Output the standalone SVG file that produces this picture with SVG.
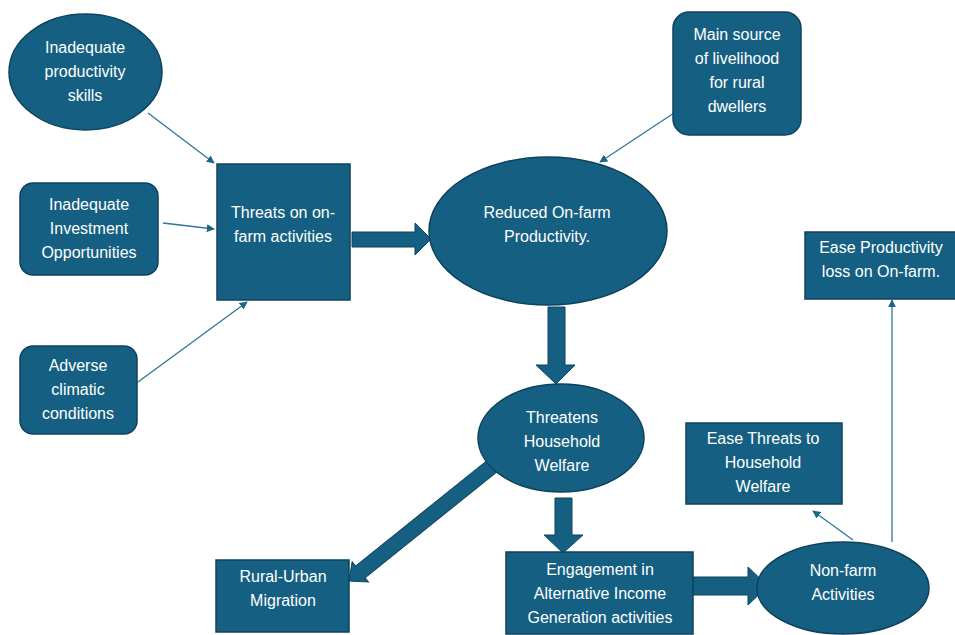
<svg xmlns="http://www.w3.org/2000/svg" width="955" height="635" viewBox="0 0 955 635">
<defs>
<style>
.n{fill:#156082;stroke:#0e425c;stroke-width:1.5}
.t{font-family:"Liberation Sans",Arial,sans-serif;font-size:16px;fill:#ffffff;text-anchor:middle}
.c{stroke:#2f7699;stroke-width:1.3;fill:none;marker-end:url(#ah)}
.b{fill:#156082;stroke:#0e425c;stroke-width:1}
</style>
<marker id="ah" viewBox="0 0 10 10" refX="9" refY="5" markerWidth="8" markerHeight="8" markerUnits="userSpaceOnUse" orient="auto">
<path d="M0,0 L10,5 L0,10 Z" fill="#1d6587"/>
</marker>
</defs>
<rect width="955" height="635" fill="#ffffff"/>
<g id="connectors">
<line class="c" x1="148" y1="113" x2="214" y2="163"/>
<line class="c" x1="163" y1="223" x2="214" y2="229"/>
<line class="c" x1="138" y1="382" x2="247" y2="302"/>
<line class="c" x1="674" y1="113" x2="600" y2="162"/>
<line class="c" x1="853" y1="540" x2="813" y2="511"/>
<line class="c" x1="892" y1="542" x2="892" y2="300"/>
<polygon class="b" points="352,232 415,232 415,223 431,239 415,255 415,247 352,247"/>
<polygon class="b" points="548,307 565,307 565,365 575,365 556,384 536,365 548,365"/>
<polygon class="b" points="555,498 572,498 572,535 583,535 563,553 544,535 555,535"/>
<polygon class="b" points="693,577 748,577 748,567 768,586 748,605 748,595 693,595"/>
<path class="b" d="M0,-7.5 H174 V-13 L188.5,0 L174,13 V7.5 H0 Z" transform="translate(496,463) rotate(141.25)"/>
</g>
<g id="n-skills">
<ellipse class="n" cx="85.5" cy="72" rx="76.5" ry="58"/>
<text class="t" x="85" y="53">Inadequate</text>
<text class="t" x="85" y="77">productivity</text>
<text class="t" x="85" y="101">skills</text>
</g>
<g id="n-investment">
<rect class="n" x="20" y="183" width="138" height="92" rx="13"/>
<text class="t" x="89" y="210">Inadequate</text>
<text class="t" x="89" y="234">Investment</text>
<text class="t" x="89" y="258">Opportunities</text>
</g>
<g id="n-threats">
<rect class="n" x="217" y="164" width="133" height="136"/>
<text class="t" x="283" y="218">Threats on on-</text>
<text class="t" x="283" y="242">farm activities</text>
</g>
<g id="n-reduced">
<ellipse class="n" cx="548" cy="231" rx="119" ry="74"/>
<text class="t" x="547" y="218">Reduced On-farm</text>
<text class="t" x="547" y="242">Productivity.</text>
</g>
<g id="n-main">
<rect class="n" x="673" y="12" width="128" height="123" rx="16"/>
<text class="t" x="737" y="40">Main source</text>
<text class="t" x="737" y="64">of livelihood</text>
<text class="t" x="737" y="88">for rural</text>
<text class="t" x="737" y="112">dwellers</text>
</g>
<g id="n-easeprod">
<rect class="n" x="805" y="232" width="152" height="67"/>
<text class="t" x="881" y="253">Ease Productivity</text>
<text class="t" x="881" y="277">loss on On-farm.</text>
</g>
<g id="n-adverse">
<rect class="n" x="20" y="346" width="117" height="88" rx="13"/>
<text class="t" x="78" y="371">Adverse</text>
<text class="t" x="78" y="395">climatic</text>
<text class="t" x="78" y="419">conditions</text>
</g>
<g id="n-household">
<ellipse class="n" cx="561" cy="438" rx="83" ry="54"/>
<text class="t" x="562" y="423">Threatens</text>
<text class="t" x="562" y="447">Household</text>
<text class="t" x="562" y="471">Welfare</text>
</g>
<g id="n-easethreats">
<rect class="n" x="686" y="423" width="156" height="81"/>
<text class="t" x="763" y="444">Ease Threats to</text>
<text class="t" x="763" y="468">Household</text>
<text class="t" x="763" y="492">Welfare</text>
</g>
<g id="n-migration">
<rect class="n" x="216" y="560" width="133" height="72"/>
<text class="t" x="283" y="582">Rural-Urban</text>
<text class="t" x="283" y="606">Migration</text>
</g>
<g id="n-engagement">
<rect class="n" x="506" y="552" width="187" height="82"/>
<text class="t" x="600" y="575">Engagement in</text>
<text class="t" x="600" y="599">Alternative Income</text>
<text class="t" x="600" y="623">Generation activities</text>
</g>
<g id="n-nonfarm">
<ellipse class="n" cx="843" cy="588" rx="86" ry="46"/>
<text class="t" x="843" y="576">Non-farm</text>
<text class="t" x="843" y="600">Activities</text>
</g>
</svg>
